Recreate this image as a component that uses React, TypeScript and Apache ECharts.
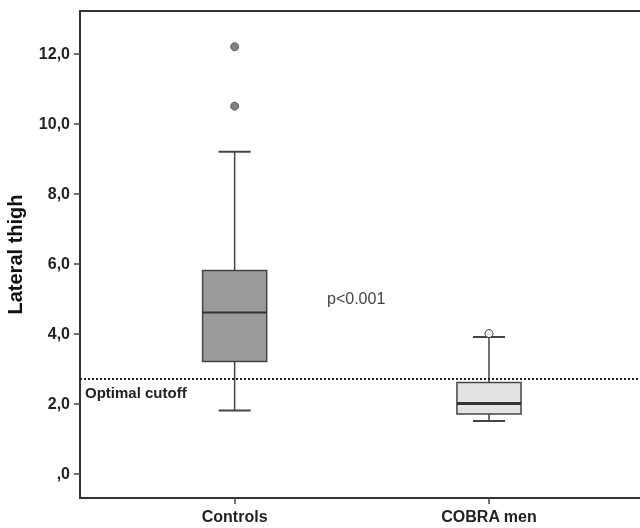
import React, { useEffect, useRef } from "react";
import * as echarts from "echarts";

const categories = ["Controls", "COBRA men"];
const whiskerLow = [1.8, 1.5];
const q1 = [3.2, 1.7];
const median = [4.6, 2.0];
const q3 = [5.8, 2.6];
const whiskerHigh = [9.2, 3.9];
const outlierGroup = [0, 0, 1];
const outlierValue = [12.2, 10.5, 4.0];
const cutoff = 2.7;
const cutoffLabel = "Optimal cutoff";
const pValueLabel = "p<0.001";
const yTicks = [0, 2, 4, 6, 8, 10, 12];
const yAxisTitle = "Lateral thigh";

const FONT = "'Liberation Sans', Arial, sans-serif";
const boxFills = ["#9a9a9a", "#e3e3e3"];
const medianWidths = [2, 3];
const outlierFills = ["#808080", "#f2f2f2"];
const outlierBorders = ["#5e5e5e", "#444444"];

export default function App() {
  const ref = useRef<HTMLDivElement>(null);

  useEffect(() => {
    if (!ref.current) return;
    const chart = echarts.init(ref.current, null, { renderer: "svg" });

    const boxData = categories.map((_, i) => [
      i,
      whiskerLow[i],
      q1[i],
      median[i],
      q3[i],
      whiskerHigh[i],
    ]);
    const outlierData = outlierGroup.map((g, i) => ({
      value: [g, outlierValue[i]],
      itemStyle: {
        color: outlierFills[g],
        borderColor: outlierBorders[g],
        borderWidth: 1,
        opacity: 1,
      },
    }));

    const BOX_W = 0.252;
    const CAP_W = 0.126;
    const stroke = "#444444";

    chart.setOption({
      animation: false,
      grid: {
        left: 80,
        top: 11,
        width: 570,
        height: 487,
        outerBoundsMode: "none",
        containLabel: false,
        show: true,
        borderColor: "#333",
        borderWidth: 2,
        backgroundColor: "transparent",
      },
      xAxis: {
        type: "value",
        min: -0.608,
        max: 1.633,
        splitLine: { show: false },
        axisLine: { show: true, onZero: false, lineStyle: { color: "#333", width: 2 } },
        axisTick: {
          show: true,
          customValues: [0, 1],
          length: 6,
          lineStyle: { color: "#444", width: 1.5 },
        },
        axisLabel: {
          customValues: [0, 1],
          formatter: (v: number) => categories[Math.round(v)] ?? "",
          fontFamily: FONT,
          fontWeight: "bold",
          fontSize: 16,
          color: "#222",
          margin: 10,
        },
      },
      yAxis: {
        type: "value",
        min: -0.7,
        max: 13.22,
        name: yAxisTitle,
        nameLocation: "middle",
        nameRotate: 90,
        nameGap: 55,
        nameTextStyle: {
          fontFamily: FONT,
          fontWeight: "bold",
          fontSize: 20,
          color: "#111",
        },
        splitLine: { show: false },
        axisLine: { show: true, onZero: false, lineStyle: { color: "#333", width: 2 } },
        axisTick: {
          show: true,
          customValues: yTicks,
          length: 6,
          lineStyle: { color: "#444", width: 1.5 },
        },
        axisLabel: {
          customValues: yTicks,
          formatter: (v: number) =>
            v === 0 ? ",0" : v.toFixed(1).replace(".", ","),
          fontFamily: FONT,
          fontWeight: "bold",
          fontSize: 16,
          color: "#222",
          margin: 10,
        },
      },
      series: [
        {
          type: "custom",
          data: boxData,
          encode: { x: 0, y: [1, 2, 3, 4, 5] },
          renderItem: (params: any, api: any) => {
            const i = params.dataIndex;
            const x = api.value(0);
            const pLow = api.coord([x, api.value(1)]);
            const pQ1 = api.coord([x, api.value(2)]);
            const pMed = api.coord([x, api.value(3)]);
            const pQ3 = api.coord([x, api.value(4)]);
            const pHigh = api.coord([x, api.value(5)]);
            const halfBox = api.size([BOX_W, 0])[0] / 2;
            const halfCap = api.size([CAP_W, 0])[0] / 2;
            const cx = pLow[0];
            const lineStyle = { stroke, lineWidth: 1.5 };
            return {
              type: "group",
              children: [
                {
                  type: "line",
                  shape: { x1: cx, y1: pLow[1], x2: cx, y2: pQ1[1] },
                  style: lineStyle,
                },
                {
                  type: "line",
                  shape: { x1: cx, y1: pQ3[1], x2: cx, y2: pHigh[1] },
                  style: lineStyle,
                },
                {
                  type: "line",
                  shape: { x1: cx - halfCap, y1: pLow[1], x2: cx + halfCap, y2: pLow[1] },
                  style: { stroke, lineWidth: 2 },
                },
                {
                  type: "line",
                  shape: { x1: cx - halfCap, y1: pHigh[1], x2: cx + halfCap, y2: pHigh[1] },
                  style: { stroke, lineWidth: 2 },
                },
                {
                  type: "rect",
                  shape: {
                    x: cx - halfBox,
                    y: pQ3[1],
                    width: halfBox * 2,
                    height: pQ1[1] - pQ3[1],
                  },
                  style: { fill: boxFills[i], stroke, lineWidth: 1.5 },
                },
                {
                  type: "line",
                  shape: { x1: cx - halfBox, y1: pMed[1], x2: cx + halfBox, y2: pMed[1] },
                  style: { stroke: "#333", lineWidth: medianWidths[i] },
                },
              ],
            };
          },
          z: 2,
        },
        {
          type: "scatter",
          data: outlierData,
          symbol: "circle",
          symbolSize: 8,
          z: 3,
          markLine: {
            silent: true,
            symbol: "none",
            label: { show: false },
            lineStyle: { color: "#222", width: 2, type: [2, 2] },
            data: [{ yAxis: cutoff }],
          },
        },
      ],
      graphic: [
        {
          type: "text",
          left: 85,
          top: 385,
          style: {
            text: cutoffLabel,
            fontFamily: FONT,
            fontWeight: "bold",
            fontSize: 15,
            fill: "#222",
          },
        },
        {
          type: "text",
          left: 327,
          top: 290,
          style: {
            text: pValueLabel,
            fontFamily: FONT,
            fontSize: 16,
            fill: "#444",
          },
        },
      ],
    });

    return () => chart.dispose();
  }, []);

  return (
    <div
      ref={ref}
      style={{ position: "fixed", left: 0, top: 0, width: 640, height: 528 }}
    />
  );
}
